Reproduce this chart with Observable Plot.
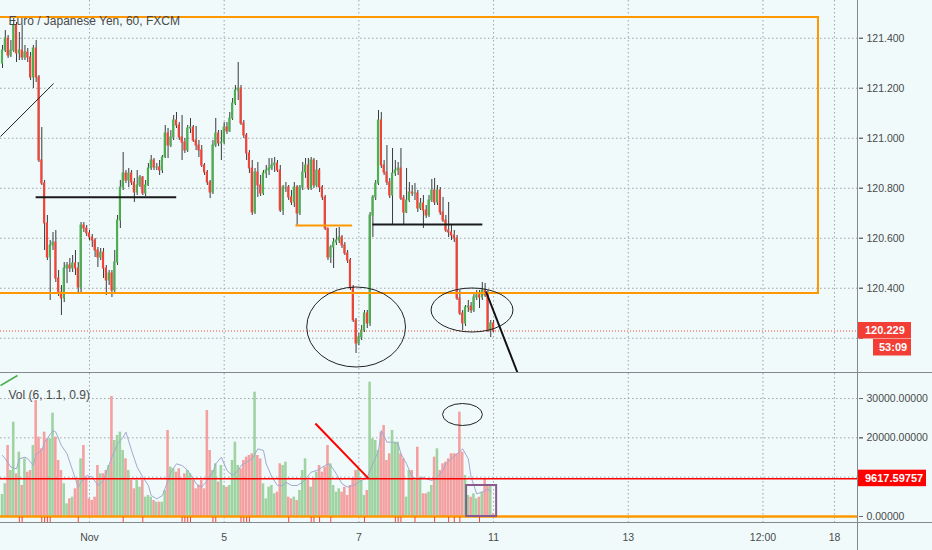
<!DOCTYPE html>
<html><head><meta charset="utf-8">
<script src="https://cdn.jsdelivr.net/npm/d3@7"></script>
<script src="https://cdn.jsdelivr.net/npm/@observablehq/plot@0.6"></script>
<style>
html,body{margin:0;padding:0;background:#f0fafb;}
#chart{position:relative;width:932px;height:550px;background:#f0fafb;overflow:hidden;font-family:"Liberation Sans",Arial,sans-serif;}
#top,#bot{position:absolute;left:0;}
#top{top:0;} #bot{top:373px;}
.sep{position:absolute;background:#85898d;}
</style></head><body>
<div id="chart"><div id="top"></div><div id="bot"></div>
<div class="sep" style="left:0;top:372px;width:932px;height:1px"></div>
<div class="sep" style="left:0;top:522px;width:932px;height:1px"></div>
<div class="sep" style="left:857px;top:0;width:1px;height:550px"></div>
</div>
<script>
// ---------- DATA (EUR/JPY, 60 min, FXCM) ----------
const title = "Euro / Japanese Yen, 60, FXCM";
const volTitle = "Vol (6, 1.1, 0.9)";
const firstOpen = 121.299;
const closes = [121.351,121.399,121.331,121.351,121.451,121.339,121.351,121.323,121.343,121.323,
121.243,121.359,121.243,120.911,120.819,120.659,120.523,120.571,120.583,120.439,
120.383,120.359,120.479,120.491,120.479,120.499,120.479,120.403,120.651,120.639,
120.619,120.603,120.591,120.551,120.523,120.543,120.479,120.431,120.459,120.391,
120.503,120.671,120.803,120.859,120.831,120.859,120.823,120.783,120.811,120.843,
120.779,120.811,120.879,120.911,120.883,120.883,120.871,120.923,121.019,120.971,
121.003,121.071,121.051,121.003,120.983,120.951,121.039,121.043,120.991,120.971,
120.951,120.891,120.863,120.823,120.783,120.971,121.019,120.979,120.983,121.043,
121.027,121.079,121.139,121.191,121.199,121.059,121.011,120.939,120.879,120.703,
120.863,120.811,120.779,120.859,120.871,120.879,120.891,120.899,120.871,120.711,
120.803,120.803,120.763,120.743,120.803,120.699,120.803,120.863,120.891,120.799,
120.911,120.811,120.871,120.803,120.763,120.639,120.523,120.563,120.583,120.591,
120.603,120.571,120.539,120.511,120.403,120.271,120.179,120.203,120.231,120.299,
120.259,120.691,120.763,120.819,121.071,120.891,120.863,120.823,120.771,120.859,
120.871,120.879,120.759,120.703,120.751,120.783,120.779,120.779,120.719,120.739,
120.711,120.691,120.751,120.791,120.743,120.791,120.703,120.671,120.631,120.623,
120.611,120.599,120.359,120.299,120.259,120.323,120.327,120.311,120.363,120.371,
120.363,120.391,120.371,120.231,120.259,120.229];
const highs = [121.371,121.431,121.411,121.391,121.479,121.463,121.423,121.451,121.371,121.359,
121.343,121.371,121.391,121.251,121.043,120.831,120.691,120.591,120.623,120.631,
120.471,120.411,120.503,120.503,120.519,120.531,120.551,120.503,120.663,120.663,
120.651,120.631,120.615,120.599,120.563,120.559,120.559,120.491,120.471,120.471,
120.551,120.691,120.831,120.943,120.871,120.879,120.871,120.839,120.871,120.851,
120.847,120.831,120.899,120.931,120.919,120.899,120.911,120.931,121.051,121.039,
121.031,121.091,121.103,121.063,121.091,120.999,121.051,121.079,121.051,121.047,
120.991,120.971,120.899,120.871,120.831,120.991,121.079,121.031,121.031,121.063,
121.063,121.103,121.159,121.211,121.303,121.211,121.071,121.019,120.951,120.911,
120.879,120.903,120.851,120.871,120.891,120.919,120.919,120.923,120.911,120.891,
120.811,120.823,120.811,120.791,120.823,120.811,120.811,120.903,120.919,120.919,
120.923,120.919,120.911,120.879,120.811,120.771,120.639,120.571,120.599,120.639,
120.643,120.611,120.583,120.551,120.519,120.411,120.279,120.219,120.251,120.311,
120.311,120.703,120.771,120.831,121.111,121.103,120.911,120.971,120.839,120.959,
120.911,120.903,120.959,120.771,120.879,120.823,120.811,120.819,120.791,120.759,
120.771,120.731,120.771,120.835,120.839,120.811,120.803,120.763,120.691,120.743,
120.651,120.631,120.611,120.391,120.311,120.331,120.351,120.343,120.383,120.391,
120.391,120.423,120.419,120.391,120.271,120.271];
const lows = [121.279,121.343,121.319,121.323,121.343,121.303,121.311,121.311,121.311,121.303,
121.231,121.199,121.223,120.903,120.811,120.551,120.511,120.351,120.551,120.423,
120.367,120.291,120.343,120.419,120.463,120.463,120.451,120.383,120.379,120.623,
120.607,120.591,120.563,120.523,120.483,120.511,120.439,120.371,120.411,120.363,
120.383,120.491,120.639,120.791,120.819,120.803,120.811,120.743,120.771,120.803,
120.771,120.767,120.807,120.871,120.871,120.871,120.851,120.859,120.919,120.919,
120.963,120.991,121.039,120.991,120.911,120.939,120.943,121.019,120.983,120.951,
120.923,120.883,120.851,120.811,120.759,120.775,120.963,120.967,120.911,120.975,
121.015,121.023,121.071,121.131,121.151,121.051,120.999,120.911,120.859,120.691,
120.695,120.763,120.767,120.771,120.839,120.851,120.871,120.863,120.863,120.703,
120.691,120.783,120.751,120.731,120.723,120.651,120.691,120.791,120.839,120.791,
120.791,120.799,120.803,120.783,120.751,120.631,120.511,120.499,120.479,120.571,
120.579,120.559,120.531,120.499,120.391,120.263,120.139,120.171,120.191,120.223,
120.239,120.247,120.603,120.751,120.811,120.879,120.851,120.811,120.759,120.651,
120.847,120.851,120.751,120.651,120.699,120.743,120.767,120.751,120.703,120.711,
120.639,120.679,120.683,120.743,120.731,120.731,120.691,120.663,120.623,120.603,
120.591,120.583,120.351,120.291,120.231,120.247,120.303,120.299,120.303,120.351,
120.319,120.351,120.363,120.223,120.203,120.223];
const volumes = [5595,8307,18055,11698,23989,10850,16361,7883,14665,11274,
11698,18055,29499,20176,17208,21447,19752,19752,26278,20176,
14241,11698,8307,3221,4493,4916,7036,9155,14665,18055,
10002,4493,4069,4916,12969,10850,10850,11698,12969,30516,
19327,20598,21447,16784,14665,11698,9155,7036,9155,7459,
9155,4916,5340,4916,4069,3645,3645,3645,6612,21870,
12545,12121,11274,12121,9579,10850,11698,10850,9155,7036,
7883,9155,7036,26956,16784,11698,13394,8731,12969,7883,
7459,7883,14241,18903,12969,12121,14241,15089,15512,15936,
31618,15512,14665,8307,4493,7459,7883,5764,6188,13394,
12969,13818,4916,4493,4916,4069,6612,11698,14665,9155,
7459,9579,11274,12969,11274,12545,18055,13394,7883,6188,
7036,6188,7459,5340,7883,9579,11698,12121,9155,5340,
6612,34161,19752,19327,16784,21447,23141,14241,15936,21870,
18903,18903,15936,14665,4916,11698,11698,9155,17632,10002,
5764,5764,6188,7883,15089,17208,11698,13394,13818,14665,
15936,15936,15936,26532,16361,10426,5340,4916,5764,4493,
4916,6188,9579,7883,7883,678];
// volume moving-average line (bar, value)
const maBars = [0,1,3,5,6,8,9,11,12,14,15,18,19,21,23,25,27,28,30,32,
34,36,37,39,41,43,44,46,48,50,52,53,55,57,59,60,62,64,66,68,
69,71,73,75,76,78,80,82,84,85,87,89,91,93,94,96,98,100,101,103,
105,107,109,110,112,114,116,117,119,121,123,125,126,128,130,132,134,135,137,139,
141,142,144,146,148,150,151,153,155,157,158,160,162,164,166,167,169,171,173,174];
const maValues = [15512,14665,12545,12121,14665,15089,14665,12969,15936,16784,
18903,21870,21447,18055,15936,11698,7459,8731,10426,10002,
7883,9155,11274,15089,18480,20176,21447,16784,12545,10002,
7883,5340,4493,5340,9155,11274,13394,12969,11698,9579,
8307,7459,9155,11274,13394,15089,11698,10426,11698,12969,
13818,14665,17208,16784,13394,10002,7883,7883,8731,7883,
7883,8731,10426,11274,11698,12545,13394,12969,10850,8307,
7459,7883,8307,9155,10002,13394,16784,21870,18903,18903,
18480,15936,13394,10002,9579,10002,9579,9155,10002,11698,
13394,14665,15936,17208,14665,10002,5764,6188,7036,6188];
const volSignalBars = [6,7,14,15,16,17,27,43,50,64,65,66,67,75,76,85,86,87,88,102,110,111,113,117,129,140,141,142,147,154,159,161,163,170];
const dayTickBars = [31,79,127,175,223,271,296.5];
const dayTickLabels = ["Nov","5","7","11","13","12:00","18"];
const priceTicks = [120.2,120.4,120.6,120.8,121.0,121.2,121.4];
const volTicks = [0,10000,20000,30000];
const lastPrice = 120.229;
const countdown = "53:09";
const volLevel = 9617.59757;
// drawings (bar index, price / volume)
const zoneBox = [{x1:-6, x2:290.8, y1:120.379, y2:121.483}];
const blackThin = [{x1:-0.7, y1:121.007, x2:18.2, y2:121.219}];
const blackThick = [{x1:11.8, y1:120.764, x2:61.9, y2:120.764},{x1:131.8, y1:120.655, x2:171, y2:120.655}];
const blackTrend = [{x1:172.3, y1:120.387, x2:183.5, y2:120.063}];
const orangeLine = [{x1:104.4, y1:120.651, x2:124.6, y2:120.651}];
const priceEllipses = [{cx:126.2, cy:120.243, rx:17.6, ry:0.16},{cx:167.5, cy:120.311, rx:14.6, ry:0.088}];
const volRedTrend = [{x1:111.5, y1:23650, x2:130.4, y2:9700}];
const volGreenTrend = [{x1:-0.7, y1:33313, x2:5.35, y2:35856}];
const volEllipses = [{cx:164.1, cy:25811, rx:7.1, ry:2797}];
const volBox = [{x1:165.4, x2:176.1, y1:0, y2:7883}];

// ---------- BUILD ----------
const rows = closes.map((c, i) => ({i, open: i ? closes[i-1] : firstOpen, close: c, high: highs[i], low: lows[i], vol: volumes[i]}));
const ma = maBars.map((b, k) => ({b, v: maValues[k]}));
const labelMap = new Map(dayTickBars.map((b, k) => [b, dayTickLabels[k]]));
// tick labels that the value boxes cover are not drawn (ticks and grid stay)
const priceLabelTicks = priceTicks.filter(t => Math.abs(t - lastPrice) > 0.06);
const volLabelTicks = volTicks.filter(t => Math.abs(t - volLevel) > 2000);

const FONT = "'Liberation Sans', Arial, sans-serif";
const W = 932, RM = 74;
const xDomain = [-0.7128, 305.06];
const GREEN = "#4caf50", RED = "#f44336";
const GRID = {stroke: "#9ea4aa", strokeOpacity: 1, strokeWidth: 1, strokeDasharray: "1.5,2.5"};
const AXC = "#4a4a4a";

function ellipseMark(list, stroke, width) {
  return (index, scales) => {
    const g = d3.create("svg:g");
    for (const e of list) {
      const cx = scales.x(e.cx), cy = scales.y(e.cy);
      const rx = Math.abs(scales.x(e.cx + e.rx) - cx), ry = Math.abs(scales.y(e.cy + e.ry) - cy);
      g.append("ellipse").attr("cx", cx).attr("cy", cy).attr("rx", rx).attr("ry", ry)
        .attr("fill", "none").attr("stroke", stroke).attr("stroke-width", width);
    }
    return g.node();
  };
}
function valueLabel(value, text, boxW, color, extra) {
  return (index, scales, values, dims) => {
    const x0 = dims.width - dims.marginRight;
    const y = scales.y(value);
    const g = d3.create("svg:g").attr("font-family", FONT).attr("font-size", 11)
      .attr("font-weight", "bold").attr("text-anchor", "start");
    g.append("rect").attr("x", x0).attr("y", y - 8.5).attr("width", boxW).attr("height", 16.5).attr("fill", color);
    g.append("text").attr("x", x0 + 7).attr("y", y).attr("dy", "0.36em").attr("fill", "#fff").text(text);
    if (extra) {
      g.append("rect").attr("x", x0 + 15).attr("y", y + 8.5).attr("width", boxW - 15).attr("height", 16.5).attr("fill", color);
      g.append("text").attr("x", x0 + 21).attr("y", y + 16.8).attr("dy", "0.36em").attr("fill", "#fff").text(extra);
    }
    return g.node();
  };
}

const topChart = Plot.plot({
  width: W, height: 373, marginTop: 0, marginRight: RM, marginBottom: 0, marginLeft: 0,
  style: {background: "transparent", fontFamily: FONT, fontSize: "10.5px", color: AXC},
  x: {domain: xDomain, axis: null},
  y: {domain: [120.059, 121.551], axis: null},
  marks: [
    Plot.gridY(priceTicks, GRID),
    Plot.gridX(dayTickBars, GRID),
    Plot.ruleX(rows, {x: "i", y1: "low", y2: "high", stroke: "#3a3a3a", strokeWidth: 1, clip: true}),
    Plot.rect(rows, {x1: d => d.i - 0.38, x2: d => d.i + 0.38, y1: "open", y2: "close",
      fill: d => d.close >= d.open ? GREEN : RED, insetTop: -0.5, insetBottom: -0.5, clip: true}),
    Plot.ruleY([lastPrice], {stroke: RED, strokeWidth: 1, strokeDasharray: "1,2"}),
    Plot.rect(zoneBox, {x1: "x1", x2: "x2", y1: "y1", y2: "y2", fill: "none", stroke: "#ff9800", strokeWidth: 2, clip: true}),
    Plot.link(orangeLine, {x1: "x1", y1: "y1", x2: "x2", y2: "y2", stroke: "#ff9800", strokeWidth: 2}),
    Plot.link(blackThin, {x1: "x1", y1: "y1", x2: "x2", y2: "y2", stroke: "#222", strokeWidth: 1, clip: true}),
    Plot.link(blackThick, {x1: "x1", y1: "y1", x2: "x2", y2: "y2", stroke: "#1a1a1a", strokeWidth: 2}),
    Plot.link(blackTrend, {x1: "x1", y1: "y1", x2: "x2", y2: "y2", stroke: "#111", strokeWidth: 2, clip: true}),
    ellipseMark(priceEllipses, "#222", 1),
    Plot.axisY(priceTicks, {anchor: "right", text: null, tickSize: 4, stroke: "#666"}),
    Plot.axisY(priceLabelTicks, {anchor: "right", tickFormat: d3.format(".3f"), tickSize: 4, tickPadding: 4, stroke: "#666", fill: AXC}),
    Plot.text([title], {frameAnchor: "top-left", dx: 8, dy: 16, textAnchor: "start", fontSize: 12, fill: "#4a4a4a"}),
    valueLabel(lastPrice, d3.format(".3f")(lastPrice), 53, "#f23e34", countdown)
  ]
});

const botChart = Plot.plot({
  width: W, height: 177, marginTop: 0, marginRight: RM, marginBottom: 27, marginLeft: 0,
  style: {background: "transparent", fontFamily: FONT, fontSize: "10.5px", color: AXC},
  x: {domain: xDomain, axis: null},
  y: {domain: [-1780, 36365], axis: null},
  marks: [
    Plot.gridY(volTicks.slice(1), GRID),
    Plot.gridX(dayTickBars, GRID),
    Plot.rect(rows, {x1: d => d.i - 0.46, x2: d => d.i + 0.46, y1: 0, y2: "vol",
      fill: d => d.close >= d.open ? "#9fd3a1" : "#f4a0a0", clip: true}),
    Plot.line(ma, {x: "b", y: "v", stroke: "#a2a9d0", strokeWidth: 1, clip: true}),
    Plot.ruleY([volLevel], {stroke: "#ff0000", strokeWidth: 1.5}),
    Plot.ruleY([0], {stroke: "#ff9800", strokeWidth: 2.5}),
    Plot.ruleX(volSignalBars, {stroke: RED, strokeWidth: 1, insetTop: 144}),
    Plot.link(volRedTrend, {x1: "x1", y1: "y1", x2: "x2", y2: "y2", stroke: "#ff0000", strokeWidth: 2}),
    Plot.link(volGreenTrend, {x1: "x1", y1: "y1", x2: "x2", y2: "y2", stroke: GREEN, strokeWidth: 1.5, clip: true}),
    ellipseMark(volEllipses, "#222", 1),
    Plot.rect(volBox, {x1: "x1", x2: "x2", y1: "y1", y2: "y2", fill: "none", stroke: "#8a5a8e", strokeWidth: 2}),
    Plot.axisY(volTicks, {anchor: "right", text: null, tickSize: 4, stroke: "#666"}),
    Plot.axisY(volLabelTicks, {anchor: "right", tickFormat: d3.format(".5f"), tickSize: 4, tickPadding: 4, stroke: "#666", fill: AXC}),
    Plot.axisX(dayTickBars, {anchor: "bottom", tickFormat: d => labelMap.get(d), tickSize: 0, tickPadding: 10, fill: AXC}),
    Plot.text([volTitle], {frameAnchor: "top-left", dx: 8, dy: 17, textAnchor: "start", fontSize: 12, fill: "#4a4a4a"}),
    valueLabel(volLevel, d3.format(".5f")(volLevel), 68, "#ff0000")
  ]
});

document.getElementById("top").appendChild(topChart);
document.getElementById("bot").appendChild(botChart);
</script>
</body></html>
